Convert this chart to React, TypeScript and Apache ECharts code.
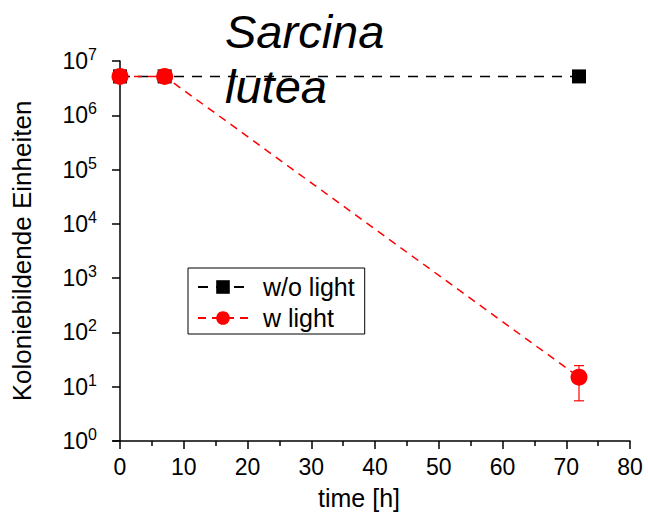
import React, { useEffect, useRef } from "react";
import * as echarts from "echarts";

const seriesNames = ["w/o light", "w light"];
const timeH = [0, 7, 72];
const withoutLight = [5.2e6, 5.2e6, 5.2e6];
const withLight = [5.2e6, 5.2e6, 15];
const withLightErr = [0, 0, 9.5];
const xMajorTicks = [0, 10, 20, 30, 40, 50, 60, 70, 80];
const xMinorTicks = [5, 15, 25, 35, 45, 55, 65, 75];
const titleLines = ["Sarcina", "lutea"];
const xName = "time [h]";
const yName = "Koloniebildende Einheiten";

const FONT = "Liberation Sans, Arial, sans-serif";

export default function App() {
  const ref = useRef<HTMLDivElement>(null);
  useEffect(() => {
    const chart = echarts.init(ref.current!, null, { renderer: "svg" });
    const errData = timeH
      .map((t, i) => [t, withLight[i], withLightErr[i]])
      .filter((d) => d[2] > 0);
    chart.setOption({
      animation: false,
      backgroundColor: "#fff",
      textStyle: { fontFamily: FONT },
      grid: { left: 113, right: 18, top: 61, bottom: 71, containLabel: false, outerBoundsMode: "none" },
      legend: {
        data: seriesNames,
        orient: "vertical",
        left: 188,
        top: 268,
        borderColor: "#000",
        borderWidth: 1,
        padding: [6, 10, 3, 9],
        itemGap: 5,
        itemWidth: 50,
        itemHeight: 17,
        textStyle: { fontSize: 25, fontFamily: FONT, color: "#000", padding: [0, 0, 0, 10], lineHeight: 26 },
      },
      xAxis: [
        {
          type: "value",
          min: -1.1,
          max: 80,
          name: xName,
          nameLocation: "middle",
          nameGap: 44,
          nameTextStyle: { fontSize: 25, fontFamily: FONT, color: "#000", padding: [0, 25, 0, 0] },
          axisLine: { show: true, onZero: false, lineStyle: { color: "#000", width: 1.5 } },
          axisTick: { show: true, inside: false, length: 8, customValues: xMajorTicks, lineStyle: { color: "#000", width: 1.5 } },
          axisLabel: { customValues: xMajorTicks, fontSize: 23, fontFamily: FONT, color: "#000", margin: 14 },
          splitLine: { show: false },
        },
        {
          type: "value",
          position: "bottom",
          min: -1.1,
          max: 80,
          axisLine: { show: false, onZero: false },
          axisTick: { show: true, inside: false, length: 5, customValues: xMinorTicks, lineStyle: { color: "#000", width: 1.5 } },
          axisLabel: { show: false },
          splitLine: { show: false },
        },
      ],
      yAxis: {
        type: "log",
        logBase: 10,
        min: 1,
        max: 1e7,
        name: yName,
        nameLocation: "middle",
        nameGap: 78,
        nameTextStyle: { fontSize: 26, fontFamily: FONT, color: "#000" },
        axisLine: { show: true, lineStyle: { color: "#000", width: 1.5 } },
        axisTick: { show: true, inside: false, length: 8, lineStyle: { color: "#000", width: 1.5 } },
        axisLabel: {
          margin: 16,
          formatter: (v: number) => `{b|10}{s|${Math.round(Math.log10(v))}}`,
          rich: {
            b: { fontSize: 23, fontFamily: FONT, color: "#000" },
            s: { fontSize: 16, fontFamily: FONT, color: "#000", padding: [0, 0, 13, 0] },
          },
        },
        splitLine: { show: false },
      },
      series: [
        {
          name: seriesNames[0],
          type: "line",
          xAxisIndex: 0,
          data: timeH.map((t, i) => [t, withoutLight[i]]),
          symbol: "rect",
          symbolSize: 14,
          itemStyle: { color: "#000" },
          lineStyle: { color: "#000", width: 1.5, type: [10, 8] },
          z: 2,
        },
        {
          name: seriesNames[1],
          type: "line",
          xAxisIndex: 0,
          data: timeH.map((t, i) => [t, withLight[i]]),
          symbol: "circle",
          symbolSize: 17,
          itemStyle: { color: "#ff0000" },
          lineStyle: { color: "#ff0000", width: 1.5, type: [8, 6] },
          z: 3,
        },
        {
          name: "error",
          type: "custom",
          xAxisIndex: 0,
          data: errData,
          encode: { x: 0, y: 1 },
          z: 4,
          renderItem: (params: any, api: any) => {
            const x = api.value(0);
            const y = api.value(1);
            const e = api.value(2);
            const top = api.coord([x, y + e]);
            const bot = api.coord([x, Math.max(y - e, 1.0001)]);
            const w = 5;
            const st = { stroke: "#ff0000", lineWidth: 1.2 };
            return {
              type: "group",
              children: [
                { type: "line", shape: { x1: top[0], y1: top[1], x2: bot[0], y2: bot[1] }, style: st },
                { type: "line", shape: { x1: top[0] - w, y1: top[1], x2: top[0] + w, y2: top[1] }, style: st },
                { type: "line", shape: { x1: bot[0] - w, y1: bot[1], x2: bot[0] + w, y2: bot[1] }, style: st },
              ],
            };
          },
        },
      ],
      graphic: [
        {
          type: "text",
          left: 225,
          top: 4,
          z: 10,
          style: {
            text: titleLines.join("\n"),
            fontSize: 47,
            fontStyle: "italic",
            fontFamily: FONT,
            lineHeight: 55,
            fill: "#000",
          },
        },
      ],
    });
    return () => chart.dispose();
  }, []);
  return <div ref={ref} style={{ position: "fixed", left: 0, top: 0, width: 648, height: 512 }} />;
}
